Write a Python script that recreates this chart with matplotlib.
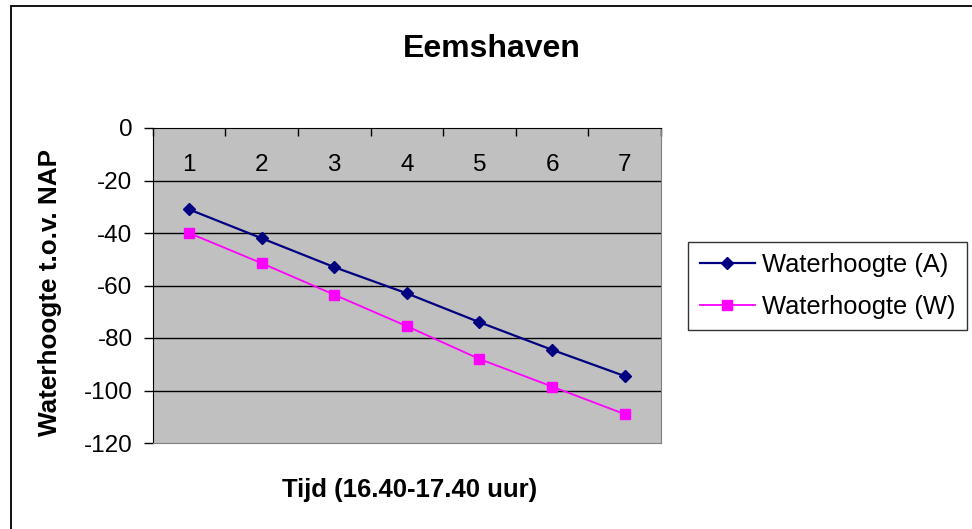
import matplotlib.pyplot as plt
from matplotlib.patches import Rectangle
from matplotlib.transforms import blended_transform_factory

plt.rcParams['font.family'] = ['Liberation Sans', 'DejaVu Sans']

# data
tijd = [1, 2, 3, 4, 5, 6, 7]
hoogte_a = [-31, -42, -53, -63, -74, -84.5, -94.5]
hoogte_w = [-40, -51.5, -63.5, -75.5, -88, -98.5, -109]
yticks = [0, -20, -40, -60, -80, -100, -120]

fig = plt.figure(figsize=(9.72, 5.29), dpi=100)
ax = fig.add_axes([152.7/972, 1-443/529, (661-152.7)/972, (443-128)/529])
ax.set_facecolor('#C0C0C0')

# outer chart border (runs off the right and bottom edges)
fig.patches.append(Rectangle((10.5/972, -0.1), 1.2, 1 - 6.5/529 + 0.1,
                             transform=fig.transFigure, fill=False,
                             edgecolor='black', linewidth=1.3, zorder=0))

ax.plot(tijd, hoogte_a, color='#000080', lw=1.6, marker='D', ms=6.3,
        label='Waterhoogte (A)', zorder=3)
ax.plot(tijd, hoogte_w, color='#FF00FF', lw=1.3, marker='s', ms=7.8,
        label='Waterhoogte (W)', zorder=3)

ax.set_xlim(0.5, 7.5)
ax.set_ylim(-120, 0)
ax.set_yticks(yticks)
ax.set_yticklabels([str(v) for v in yticks], fontsize=17.5)
for v in yticks[1:-1]:
    ax.axhline(v, color='black', lw=1, zorder=1)

# x axis crosses at 0 (top); ticks between categories
ax.set_xticks([t + 0.5 for t in [0] + tijd])
ax.tick_params(axis='x', top=True, bottom=False, labeltop=False,
               labelbottom=False, direction='in', length=5.5, width=1)
ax.tick_params(axis='y', direction='out', length=6.5, width=1, pad=8)
trans = blended_transform_factory(ax.transData, ax.transAxes)
for t in tijd:
    ax.text(t, 0.882, str(t), transform=trans, ha='center', va='center',
            fontsize=17.5)

for side in ['right', 'bottom']:
    ax.spines[side].set_color('#808080')
ax.spines['top'].set_color('black')
ax.spines['left'].set_color('black')

fig.text(492/972, 1-49/529, 'Eemshaven', ha='center', va='center',
         fontsize=23, fontweight='bold')
fig.text(410/972, 1-490/529, 'Tijd (16.40-17.40 uur)', ha='center',
         va='center', fontsize=18.5, fontweight='bold')
fig.text(50/972, 1-293/529, 'Waterhoogte t.o.v. NAP', ha='center',
         va='center', rotation=90, fontsize=18.8, fontweight='bold')

leg = fig.legend(loc='center', bbox_to_anchor=(827.5/972, 1-286/529),
                 fontsize=18.4, frameon=True, fancybox=False, edgecolor='black',
                 handlelength=2.15, handletextpad=0.27, borderpad=0.45,
                 labelspacing=0.69, borderaxespad=0)
leg.get_frame().set_linewidth(1)

fig.savefig('out.png', dpi=100)
